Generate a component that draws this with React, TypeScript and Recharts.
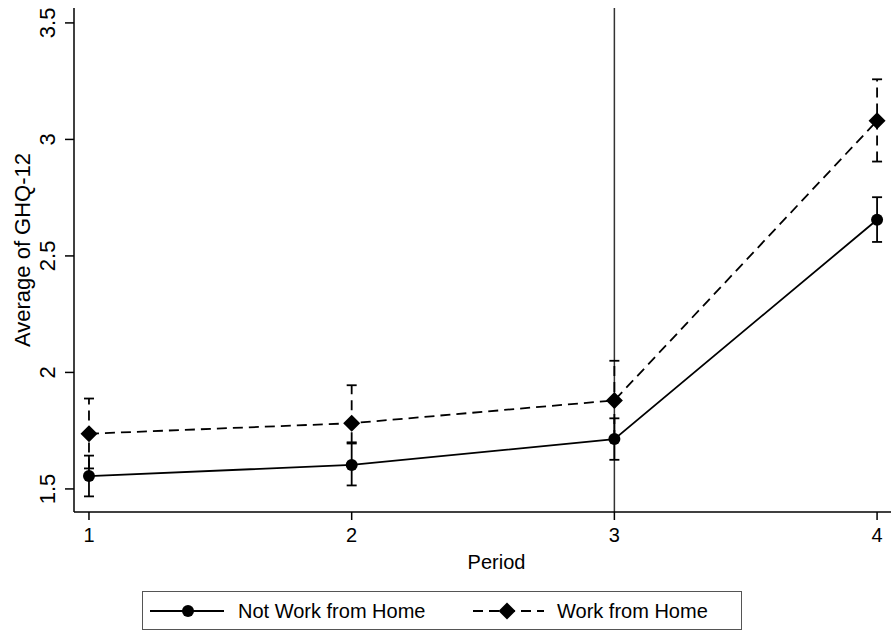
import React from 'react'
import {
  ComposedChart, Line, XAxis, YAxis, ErrorBar, ReferenceLine, Legend,
} from 'recharts'

const periods = [1, 2, 3, 4]
const notWfh = [1.555, 1.603, 1.714, 2.655]
const notWfhLow = [1.468, 1.515, 1.625, 2.56]
const notWfhHigh = [1.643, 1.695, 1.803, 2.752]
const wfh = [1.737, 1.782, 1.88, 3.08]
const wfhLow = [1.588, 1.7, 1.71, 2.905]
const wfhHigh = [1.888, 1.945, 2.05, 3.258]
const xTicks = [1, 2, 3, 4]
const yTicks = [1.5, 2, 2.5, 3, 3.5]

const data = periods.map((p, i) => ({
  period: p,
  notWfh: notWfh[i],
  notWfhErr: [notWfh[i] - notWfhLow[i], notWfhHigh[i] - notWfh[i]],
  wfh: wfh[i],
  wfhErr: [wfh[i] - wfhLow[i], wfhHigh[i] - wfh[i]],
}))

const FONT = '"Liberation Sans", Arial, sans-serif'
const DASH = '10 6'

const CircleDot = (props: any) => {
  const { cx, cy, index } = props
  if (cx == null || cy == null) return null
  return <circle key={'c' + index} cx={cx} cy={cy} r={6} fill="#000" />
}

const DiamondDot = (props: any) => {
  const { cx, cy, index } = props
  if (cx == null || cy == null) return null
  const s = 8.5
  return (
    <path
      key={'d' + index}
      d={`M${cx},${cy - s}L${cx + s},${cy}L${cx},${cy + s}L${cx - s},${cy}Z`}
      fill="#000"
    />
  )
}

const YTick = (props: any) => {
  const { x, y, payload } = props
  return (
    <g transform={`translate(${x},${y}) rotate(-90)`}>
      <text textAnchor="middle" fontSize={22} fontFamily={FONT} fill="#000">
        {payload.value}
      </text>
    </g>
  )
}

const XTick = (props: any) => {
  const { x, y, payload } = props
  return (
    <text x={x} y={y} dy="0.78em" textAnchor="middle" fontSize={20} fontFamily={FONT} fill="#000">
      {payload.value}
    </text>
  )
}

const YLabel = (props: any) => {
  const { viewBox } = props
  const cx = viewBox.x + 30
  const cy = viewBox.y + viewBox.height / 2 - 10
  return (
    <text transform={`translate(${cx},${cy}) rotate(-90)`} textAnchor="middle" fontSize={22} fontFamily={FONT} fill="#000">
      Average of GHQ-12
    </text>
  )
}

const XLabel = (props: any) => {
  const { viewBox } = props
  const cx = viewBox.x + viewBox.width / 2 + 14
  return (
    <text x={cx} y={viewBox.y + 57} textAnchor="middle" fontSize={20} fontFamily={FONT} fill="#000">
      Period
    </text>
  )
}

const LegendBox = () => (
  <svg width={600} height={39} style={{ display: 'block' }}>
    <rect x={0.5} y={0.5} width={599} height={38} fill="#fff" stroke="#555" strokeWidth={1} />
    <line x1={8} y1={20} x2={82} y2={20} stroke="#000" strokeWidth={1.8} />
    <circle cx={46} cy={20} r={6} fill="#000" />
    <text x={96} y={27} fontSize={20} fontFamily={FONT} fill="#000">Not Work from Home</text>
    <line x1={331} y1={20} x2={402} y2={20} stroke="#000" strokeWidth={1.8} strokeDasharray={DASH} />
    <path d="M365,11.5L373.5,20L365,28.5L356.5,20Z" fill="#000" />
    <text x={415} y={27} fontSize={20} fontFamily={FONT} fill="#000">Work from Home</text>
  </svg>
)

export default function App() {
  return (
    <div style={{ position: 'absolute', left: 0, top: 0, background: '#fff' }}>
      <ComposedChart
        width={891}
        height={631}
        data={data}
        margin={{ top: 8, right: 0, left: 0, bottom: 0 }}
      >
        <XAxis
          dataKey="period"
          type="number"
          domain={[0.943, 4.053]}
          ticks={xTicks}
          allowDataOverflow
          height={80}
          tickSize={8}
          tickMargin={6}
          tick={<XTick />}
          stroke="#000"
          strokeWidth={1.5}
          label={{ content: <XLabel /> }}
        />
        <YAxis
          type="number"
          domain={[1.401, 3.564]}
          ticks={yTicks}
          allowDataOverflow
          width={74}
          tickSize={9}
          tickMargin={10}
          tick={<YTick />}
          stroke="#000"
          strokeWidth={1.5}
          label={{ content: <YLabel /> }}
        />
        <ReferenceLine x={3} stroke="#333" strokeWidth={1.5} />
        <Line
          dataKey="notWfh"
          stroke="#000"
          strokeWidth={1.8}
          dot={CircleDot}
          activeDot={false}
          isAnimationActive={false}
          legendType="none"
        >
          <ErrorBar dataKey="notWfhErr" width={5} stroke="#000" strokeWidth={1.8} />
        </Line>
        <Line
          dataKey="wfh"
          stroke="#000"
          strokeWidth={1.8}
          strokeDasharray={DASH}
          dot={DiamondDot}
          activeDot={false}
          isAnimationActive={false}
          legendType="none"
        >
          <ErrorBar dataKey="wfhErr" width={5} stroke="#000" strokeWidth={1.8} strokeDasharray={DASH} />
        </Line>
        <Legend
          verticalAlign="bottom"
          content={<LegendBox />}
          wrapperStyle={{ left: 142, bottom: 1, width: 600, height: 39 }}
        />
      </ComposedChart>
    </div>
  )
}
